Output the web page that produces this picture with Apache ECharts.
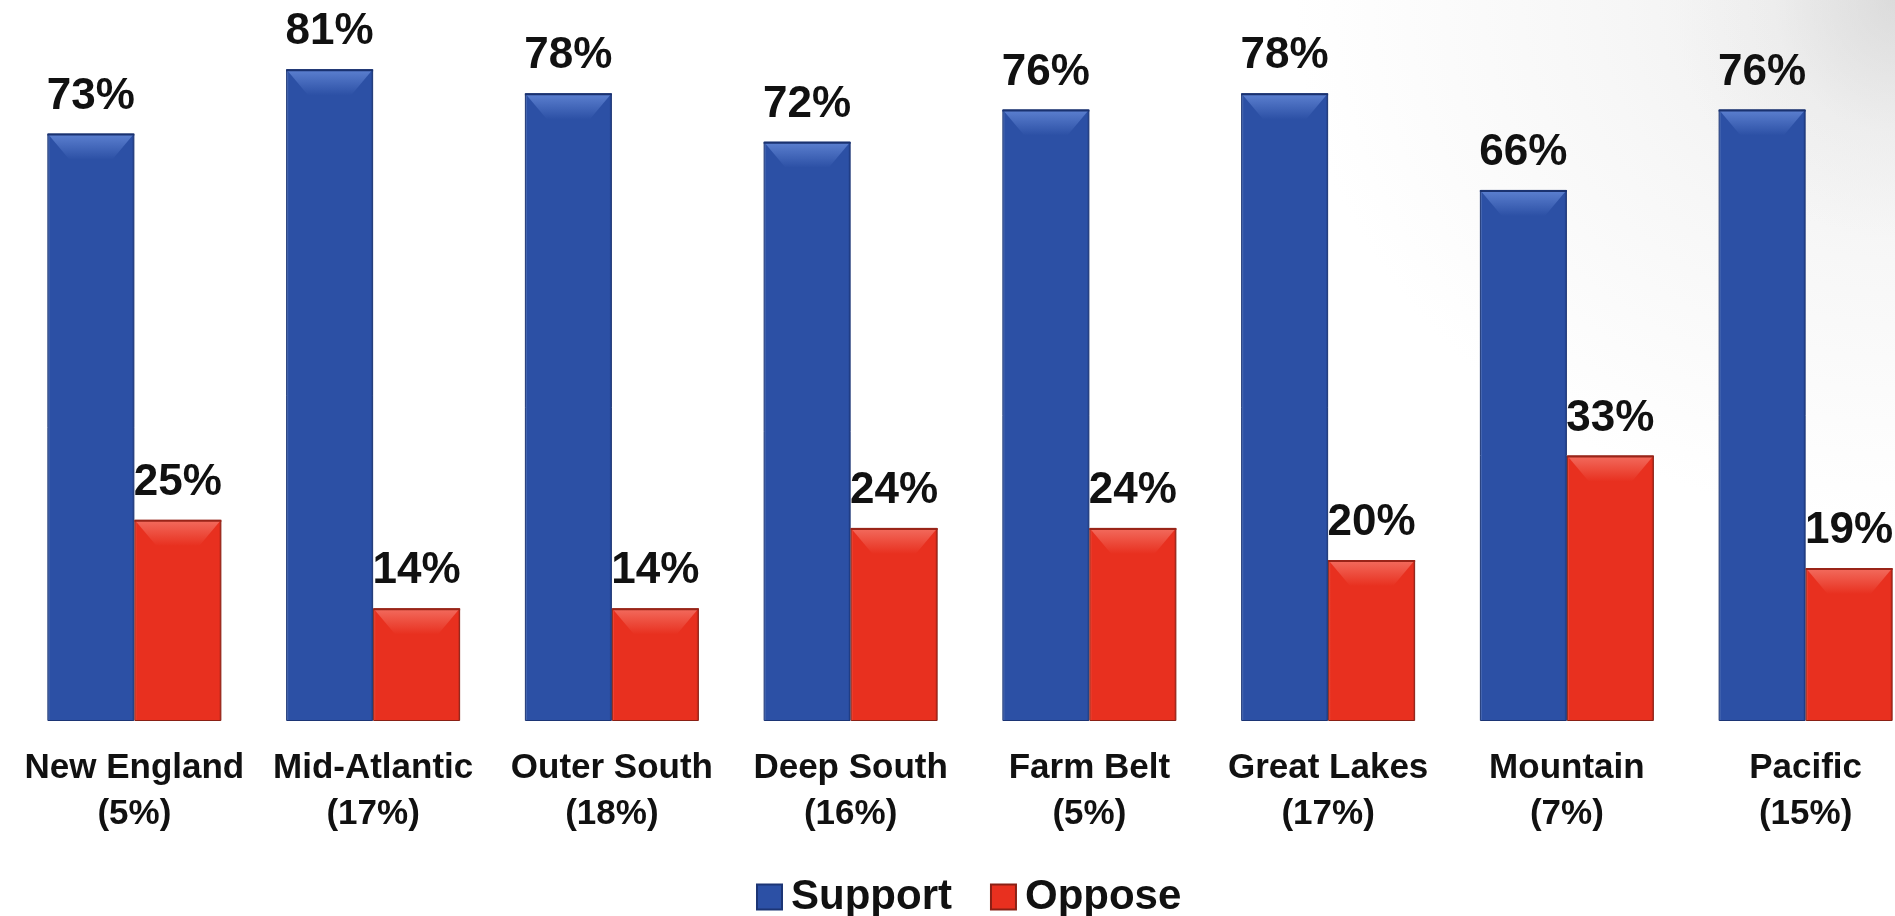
<!DOCTYPE html>
<html>
<head>
<meta charset="utf-8">
<script src="https://cdn.jsdelivr.net/npm/echarts@6/dist/echarts.min.js"></script>
<style>
  html, body { margin: 0; padding: 0; width: 1895px; height: 916px; overflow: hidden; }
  body {
    background:
      radial-gradient(ellipse 220px 240px at 100% 0%, rgba(205,205,205,0.55) 0%, rgba(225,225,225,0.25) 55%, rgba(255,255,255,0) 100%),
      radial-gradient(ellipse 600px 520px at 100% 0%, #ededed 0%, #f7f7f7 50%, #ffffff 100%);
  }
  #chart { width: 1895px; height: 916px; }
</style>
</head>
<body>
<div id="chart"></div>
<script>
const categories = ['New England', 'Mid-Atlantic', 'Outer South', 'Deep South', 'Farm Belt', 'Great Lakes', 'Mountain', 'Pacific'];
const shares = ['5%', '17%', '18%', '16%', '5%', '17%', '7%', '15%'];
const support = [73, 81, 78, 72, 76, 78, 66, 76];
const oppose = [25, 14, 14, 24, 24, 20, 33, 19];

const FONT = '"Liberation Sans", Arial, sans-serif';
const BAR_W = 87;
const chart = echarts.init(document.getElementById('chart'), null, { renderer: 'canvas' });

function barColor(light, main, dark) {
  return new echarts.graphic.LinearGradient(0, 0, 1, 0, [
    { offset: 0, color: light },
    { offset: 0.03, color: main },
    { offset: 0.97, color: main },
    { offset: 1, color: dark }
  ]);
}

function bevel(side, light, main, edge) {
  return function (params, api) {
    const p = api.coord([api.value(0), api.value(1)]);
    const left = side === 0 ? p[0] - BAR_W : p[0];
    const right = left + BAR_W;
    const top = p[1];
    return {
      type: 'group',
      children: [
        {
          type: 'polygon',
          shape: { points: [[left + 1, top + 1], [right - 1, top + 1], [right - 22, top + 26], [left + 22, top + 26]] },
          style: {
            fill: new echarts.graphic.LinearGradient(0, 0, 0, 1, [
              { offset: 0, color: light },
              { offset: 1, color: main }
            ])
          }
        },
        {
          type: 'line',
          shape: { x1: left, y1: top + 1, x2: right, y2: top + 1 },
          style: { stroke: edge, lineWidth: 2 }
        }
      ]
    };
  };
}

chart.setOption({
  backgroundColor: 'transparent',
  animation: false,
  grid: { left: 15, width: 1910, top: 0, bottom: 195, containLabel: false, outerBoundsMode: 'none' },
  legend: {
    left: 751, top: 871,
    itemWidth: 25, itemHeight: 25, itemGap: 38,
    icon: 'rect',
    textStyle: { fontFamily: FONT, fontSize: 42, fontWeight: 'bold', color: '#111', padding: [0, 0, 0, 4] },
    data: ['Support', 'Oppose']
  },
  xAxis: {
    type: 'category',
    data: categories.map((c, i) => c + '\n(' + shares[i] + ')'),
    axisLine: { show: false },
    axisTick: { show: false },
    axisLabel: {
      interval: 0, margin: 24,
      fontFamily: FONT, fontSize: 35, fontWeight: 'bold', color: '#111', lineHeight: 46
    }
  },
  yAxis: {
    type: 'value', min: 0, max: 89.6,
    show: false,
    splitLine: { show: false }
  },
  series: [
    {
      name: 'Support', type: 'bar', data: support,
      barWidth: BAR_W, barGap: '0%',
      itemStyle: { color: barColor('#6a86c0', '#2c50a5', '#1d3a80'), borderColor: '#1c3575', borderWidth: 1 },
      label: { show: true, position: 'top', distance: 15, formatter: '{c}%',
        fontFamily: FONT, fontSize: 44, fontWeight: 'bold', color: '#111' }
    },
    {
      name: 'Oppose', type: 'bar', data: oppose,
      barWidth: BAR_W, barGap: '0%',
      itemStyle: { color: barColor('#f06050', '#e8301f', '#a82014'), borderColor: '#8a2015', borderWidth: 1 },
      label: { show: true, position: 'top', distance: 15, formatter: '{c}%',
        fontFamily: FONT, fontSize: 44, fontWeight: 'bold', color: '#111' }
    },
    {
      name: 'SupportBevel', type: 'custom', silent: true, z: 3,
      data: support.map((v, i) => [i, v]),
      encode: { x: 0, y: 1 },
      renderItem: bevel(0, '#5b7fcf', '#2c50a5', '#1a3270')
    },
    {
      name: 'OpposeBevel', type: 'custom', silent: true, z: 3,
      data: oppose.map((v, i) => [i, v]),
      encode: { x: 0, y: 1 },
      renderItem: bevel(1, '#f26a5c', '#e8301f', '#9a2418')
    }
  ]
});
</script>
</body>
</html>
